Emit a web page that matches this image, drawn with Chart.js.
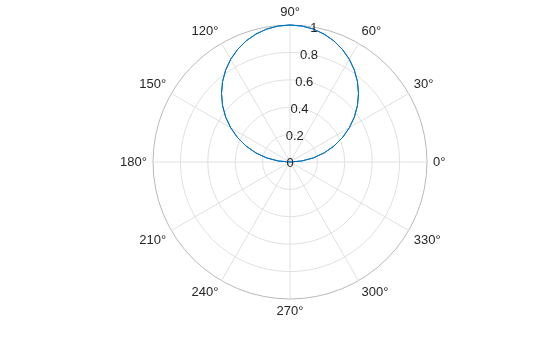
<!DOCTYPE html>
<html lang="en">
<head>
    <meta charset="UTF-8">
    <title>Polar plot</title>
    <script src="https://cdn.jsdelivr.net/npm/chart.js"></script>
    <style>
        html, body { margin: 0; padding: 0; background: #ffffff; }
    </style>
</head>
<body>
    <canvas id="polarChart" width="560" height="337"></canvas>

    <script>
        // Sudut sampel (derajat) dan jari-jari kurva yang dibaca dari gambar
        const thetaDeg = [0, 5, 10, 15, 20, 25, 30, 35, 40, 45, 50, 55, 60, 65, 70, 75, 80, 85,
                          90, 95, 100, 105, 110, 115, 120, 125, 130, 135, 140, 145, 150, 155, 160, 165, 170, 175,
                          180, 185, 190, 195, 200, 205, 210, 215, 220, 225, 230, 235, 240, 245, 250, 255, 260, 265,
                          270, 275, 280, 285, 290, 295, 300, 305, 310, 315, 320, 325, 330, 335, 340, 345, 350, 355];
        const rho = [0, 0.087, 0.174, 0.259, 0.342, 0.423, 0.5, 0.574, 0.643, 0.707, 0.766, 0.819, 0.866, 0.906, 0.94, 0.966, 0.985, 0.996,
                     1, 0.996, 0.985, 0.966, 0.94, 0.906, 0.866, 0.819, 0.766, 0.707, 0.643, 0.574, 0.5, 0.423, 0.342, 0.259, 0.174, 0.087,
                     0, -0.087, -0.174, -0.259, -0.342, -0.423, -0.5, -0.574, -0.643, -0.707, -0.766, -0.819, -0.866, -0.906, -0.94, -0.966, -0.985, -0.996,
                     -1, -0.996, -0.985, -0.966, -0.94, -0.906, -0.866, -0.819, -0.766, -0.707, -0.643, -0.574, -0.5, -0.423, -0.342, -0.259, -0.174, -0.087];

        // Label sumbu
        const angleTicks = [0, 30, 60, 90, 120, 150, 180, 210, 240, 270, 300, 330];
        const rTicks = [0, 0.2, 0.4, 0.6, 0.8, 1];

        const textColor = '#262626';
        const font = '13px "Liberation Sans", Arial, Helvetica, sans-serif';

        // Radar di Chart.js berputar searah jarum jam, jadi urutan sudut dibalik
        const order = thetaDeg.map((_, i) => (360 - i * 5) % 360);
        const labels = order.map(t => String(t));
        const values = order.map(t => rho[thetaDeg.indexOf(t)]);

        // Plugin untuk label sudut dan label jari-jari ala MATLAB
        const polarLabels = {
            id: 'polarLabels',
            afterDraw(chart) {
                const scale = chart.scales.r;
                const ctx = chart.ctx;
                const cx = scale.xCenter;
                const cy = scale.yCenter;
                const R = scale.getDistanceFromCenterForValue(1);
                ctx.save();
                ctx.font = font;
                ctx.fillStyle = textColor;

                // label sudut
                angleTicks.forEach(a => {
                    const rad = a * Math.PI / 180;
                    const c = Math.cos(rad), s = Math.sin(rad);
                    const x = cx + (R + 6) * c;
                    const y = cy - (R + 6) * s;
                    ctx.textAlign = c > 0.1 ? 'left' : (c < -0.1 ? 'right' : 'center');
                    ctx.textBaseline = s > 0.1 ? 'bottom' : (s < -0.1 ? 'top' : 'middle');
                    ctx.fillText(a + '\u00B0', x, y);
                });

                // label jari-jari di sudut 80 derajat
                const ra = 80 * Math.PI / 180;
                ctx.textAlign = 'center';
                ctx.textBaseline = 'middle';
                rTicks.forEach(v => {
                    const d = scale.getDistanceFromCenterForValue(v);
                    ctx.fillText(String(v), cx + d * Math.cos(ra), cy - d * Math.sin(ra) + 1);
                });
                ctx.restore();
            }
        };

        const ctx = document.getElementById('polarChart').getContext('2d');
        new Chart(ctx, {
            type: 'radar',
            data: {
                labels: labels,
                datasets: [{
                    data: values,
                    borderColor: '#0072BD',
                    borderWidth: 1,
                    pointRadius: 0,
                    fill: false,
                    tension: 0
                }]
            },
            options: {
                responsive: false,
                animation: false,
                layout: { padding: { left: 20, right: 0, top: 25, bottom: 38 } },
                plugins: {
                    legend: { display: false },
                    tooltip: { enabled: false }
                },
                scales: {
                    r: {
                        min: 0,
                        max: 1,
                        startAngle: 90,
                        ticks: { display: false, stepSize: 0.2 },
                        pointLabels: { display: false },
                        grid: {
                            circular: true,
                            color: c => (c.tick && c.tick.value === 1) ? '#b8b8b8' : '#e0e0e0',
                            lineWidth: 1
                        },
                        angleLines: {
                            color: '#e0e0e0',
                            lineWidth: c => (Number(c.label) % 30 === 0) ? 1 : 0
                        }
                    }
                }
            },
            plugins: [polarLabels]
        });
    </script>
</body>
</html>
